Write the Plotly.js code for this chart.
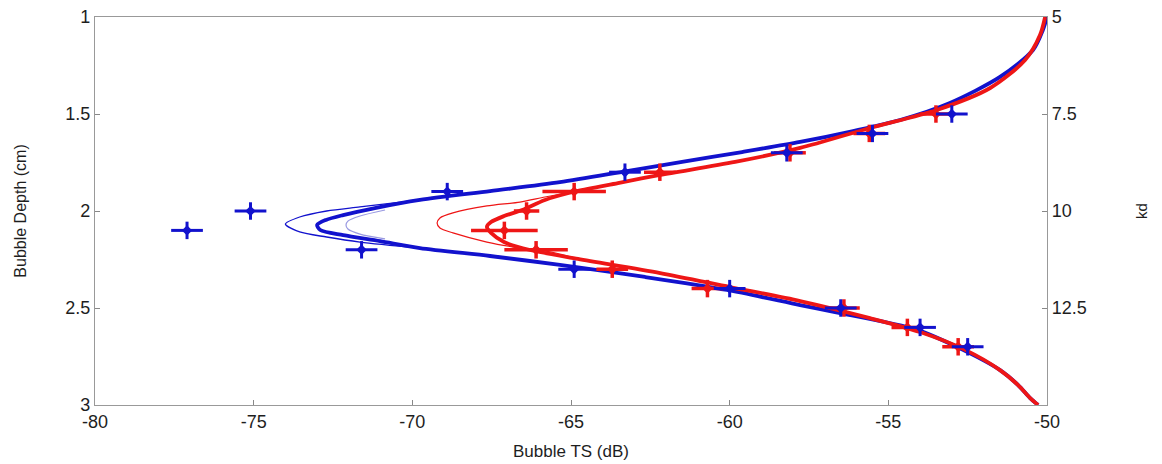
<!DOCTYPE html>
<html><head><meta charset="utf-8">
<script src="https://cdn.plot.ly/plotly-3.0.1.min.js"></script>
<style>body{margin:0;background:#fff}#chart{width:1162px;height:464px}</style>
</head><body><div id="chart"></div>
<script>
// Blue measured points
const blueTS    = [-53.0,-55.5,-58.2,-63.3,-68.9,-75.1,-77.1,-71.6,-64.9,-60.0,-56.5,-54.0,-52.5];
const blueDepth = [1.5,1.6,1.7,1.8,1.9,2.0,2.1,2.2,2.3,2.4,2.5,2.6,2.7];
const blueErr   = [0.5,0.5,0.5,0.5,0.5,0.5,0.5,0.5,0.5,0.5,0.5,0.5,0.5];
// Red measured points
const redTS    = [-53.5,-55.6,-58.1,-62.2,-64.9,-66.4,-67.1,-66.1,-63.7,-60.7,-56.4,-54.4,-52.8];
const redDepth = [1.5,1.6,1.7,1.8,1.9,2.0,2.1,2.2,2.3,2.4,2.5,2.6,2.7];
const redErr   = [0.5,0.5,0.5,0.5,1.0,0.4,1.05,1.0,0.5,0.5,0.5,0.5,0.5];
// Blue thick fit
const blueFitTS    = [-50.0,-50.13,-50.44,-51.48,-53.06,-54.63,-56.11,-57.78,-59.61,-61.5,-63.24,-65.35,-67.55,-69.76,-71.18,-72.18,-72.72,-73.0,-72.9,-72.18,-71.02,-69.76,-67.55,-65.35,-62.67,-60.08,-57.78,-56.68,-54.09,-52.65,-51.48,-50.91,-50.53,-50.28];
const blueFitDepth = [1.0,1.067,1.17,1.309,1.443,1.531,1.588,1.644,1.696,1.747,1.794,1.851,1.897,1.943,1.985,2.021,2.046,2.072,2.098,2.124,2.155,2.191,2.232,2.278,2.34,2.407,2.485,2.521,2.613,2.716,2.82,2.897,2.964,3.0];
// Blue thin fit (outer)
const blueThinTS    = [-69.76,-71.65,-72.7,-73.55,-74.0,-73.55,-72.7,-71.65,-69.76];
const blueThinDepth = [1.943,1.979,2.0,2.031,2.067,2.108,2.134,2.16,2.191];
// Blue faint fit (inner)
const blueFaintTS    = [-70.86,-71.65,-72.03,-72.09,-72.03,-71.65,-70.86];
const blueFaintDepth = [1.995,2.026,2.052,2.072,2.093,2.119,2.144];
// Red thick fit
const redFitTS    = [-50.06,-50.22,-50.69,-51.79,-53.47,-55.58,-57.78,-59.83,-62.19,-63.52,-64.81,-65.82,-66.54,-67.11,-67.52,-67.65,-67.52,-67.11,-66.29,-64.78,-62.19,-59.99,-57.78,-55.58,-54.0,-52.58,-51.48,-50.91,-50.53,-50.28];
const redFitDepth = [1.0,1.093,1.222,1.366,1.479,1.572,1.675,1.747,1.814,1.856,1.897,1.943,1.995,2.026,2.057,2.082,2.113,2.16,2.201,2.247,2.32,2.392,2.464,2.552,2.624,2.716,2.82,2.897,2.964,3.0];
// Red thin fit
const redThinTS    = [-64.81,-65.82,-66.61,-67.65,-68.72,-69.13,-69.22,-69.13,-68.72,-67.65,-66.61,-65.66,-64.78];
const redThinDepth = [1.897,1.928,1.954,1.974,2.01,2.036,2.062,2.088,2.113,2.16,2.191,2.211,2.247];
// Axis ticks
const xTicks = [-80,-75,-70,-65,-60,-55,-50];
const xLabels = ['-80','-75','-70','-65','-60','-55','-50'];
const yTicks = [1,1.5,2,2.5,3];
const yLabels = ['1','1.5','2','2.5','3'];
const kdTicks = [5,7.5,10,12.5];
const kdLabels = ['5','7.5','10','12.5'];

const BLUE = 'rgb(18,18,205)';
const RED = 'rgb(238,22,22)';
const font = {family:'Liberation Sans, Arial, sans-serif', color:'#1e1e1e'};
const f = s => Object.assign({size:s}, font);

const traces = [
  {x:blueFaintTS, y:blueFaintDepth, mode:'lines', line:{color:'rgba(70,70,200,0.55)', width:1.2, shape:'spline', smoothing:0.8}, hoverinfo:'skip'},
  {x:blueThinTS, y:blueThinDepth, mode:'lines', line:{color:BLUE, width:1.3, shape:'spline', smoothing:0.8}, hoverinfo:'skip'},
  {x:blueFitTS, y:blueFitDepth, mode:'lines', line:{color:BLUE, width:3.8, shape:'spline', smoothing:0.8}, hoverinfo:'skip'},
  {x:redThinTS, y:redThinDepth, mode:'lines', line:{color:RED, width:1.2, shape:'spline', smoothing:0.8}, hoverinfo:'skip'},
  {x:redFitTS, y:redFitDepth, mode:'lines', line:{color:RED, width:3.8, shape:'spline', smoothing:0.8}, hoverinfo:'skip'},
  {x:redTS, y:redDepth, mode:'markers', marker:{symbol:'diamond', size:8, color:RED},
   error_x:{type:'data', array:redErr, color:RED, thickness:3.5, width:0},
   error_y:{type:'constant', value:0.045, color:RED, thickness:3.5, width:0}},
  {x:blueTS, y:blueDepth, mode:'markers', marker:{symbol:'diamond', size:8, color:BLUE},
   error_x:{type:'data', array:blueErr, color:BLUE, thickness:3, width:0},
   error_y:{type:'constant', value:0.045, color:BLUE, thickness:3, width:0}},
  {x:[-50], y:[5], yaxis:'y2', mode:'markers', marker:{opacity:0}, hoverinfo:'skip'}
];

const layout = {
  width:1162, height:464, showlegend:false,
  paper_bgcolor:'#fff', plot_bgcolor:'#fff',
  margin:{l:95, r:115, t:17, b:59},
  font: f(17),
  xaxis:{range:[-80,-50], tickvals:xTicks, ticktext:xLabels, ticks:'inside', ticklen:5, tickcolor:'#888',
         showline:true, linecolor:'#999', linewidth:1.2, mirror:true, showgrid:false, zeroline:false,
         tickfont:f(18), title:{text:'Bubble TS (dB)', font:f(17), standoff:14}},
  yaxis:{range:[3,1], tickvals:yTicks, ticktext:yLabels, ticks:'inside', ticklen:5, tickcolor:'#888',
         showline:true, linecolor:'#999', linewidth:1.2, showgrid:false, zeroline:false,
         tickfont:f(18), title:{text:'Bubble Depth (cm)', font:f(16), standoff:34}},
  yaxis2:{overlaying:'y', side:'right', range:[15,5], tickvals:kdTicks, ticktext:kdLabels,
          ticks:'inside', ticklen:5, tickcolor:'#888', showline:true, linecolor:'#999', linewidth:1.2,
          showgrid:false, zeroline:false, tickfont:f(18),
          title:{text:'kd', font:f(15), standoff:50}}
};

Plotly.newPlot('chart', traces, layout, {displayModeBar:false, staticPlot:true});
</script>
</body></html>
